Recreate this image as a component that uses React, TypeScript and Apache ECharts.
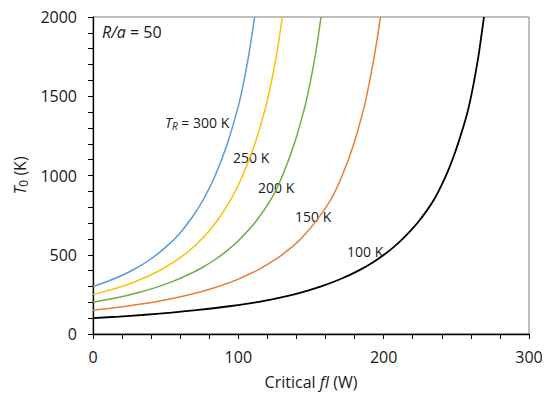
import React, { useEffect, useRef } from "react";
import * as echarts from "echarts";

// Critical fI (W) vs T0 (K) for several reservoir temperatures T_R  — [fI, T0] pairs
const xTicks = [0, 100, 200, 300];
const yTicks = [0, 500, 1000, 1500, 2000];

const tr300: number[][] = [[0, 300], [9.4, 330], [18.6, 364], [29.6, 415], [39.3, 470], [49.7, 545], [59.2, 630], [68.5, 740], [76.5, 858], [84.1, 1000], [92.4, 1200], [100, 1438], [103.5, 1580], [106.6, 1729], [108.9, 1860], [111.2, 2000]];
const tr250: number[][] = [[0, 250], [9.5, 272], [18.2, 295], [28.9, 330], [39.7, 372], [51.4, 430], [62.4, 498], [71, 565], [79, 640], [87.4, 740], [95.4, 858], [103, 1000], [111.4, 1200], [119, 1438], [122.5, 1580], [125.7, 1729], [128, 1860], [130.3, 2000]];
const tr200: number[][] = [[0, 200], [10.2, 217], [19.7, 235], [30.8, 260], [41.4, 288], [53.6, 327], [65.2, 372], [74.9, 418], [84.1, 470], [92.5, 528], [100.5, 593], [112, 710], [123, 858], [130.4, 1000], [138.5, 1200], [145.9, 1438], [149.3, 1580], [152.4, 1729], [154.7, 1860], [156.9, 2000]];
const tr150: number[][] = [[0, 150], [9.7, 160], [20.3, 172], [31.8, 187], [43.2, 204], [54.5, 224], [65.4, 246], [74.3, 267], [83, 290], [91.4, 316], [99.7, 345], [113.6, 405], [126.6, 477], [135, 535], [142.9, 600], [154.2, 720], [164.2, 858], [171.5, 1000], [179.5, 1200], [186.7, 1438], [190, 1580], [193.1, 1729], [195.5, 1860], [197.8, 2000]];
const tr100: number[][] = [[0, 100], [18, 110], [33.7, 120], [53.9, 135], [71, 150], [93.7, 175], [112, 200], [126.4, 225], [138.5, 250], [148.4, 275], [157, 300], [171.2, 350], [182.7, 400], [192.2, 450], [200.2, 500], [207.1, 550], [213.1, 600], [218.4, 650], [223.2, 700], [229.8, 780], [235.3, 858], [240.4, 950], [245.2, 1050], [249.3, 1150], [252.9, 1250], [256.2, 1350], [258.7, 1438], [261.9, 1580], [264.8, 1729], [266.9, 1860], [269, 2000]];

const seriesNames = ["300 K", "250 K", "200 K", "150 K", "100 K"];
const seriesData = [tr300, tr250, tr200, tr150, tr100];
const seriesColors = ["#5B9BD5", "#FFC000", "#70AD47", "#ED7D31", "#000000"];

const FONT = "'Open Sans', sans-serif";
const TXT = "#1a1a1a";

export default function App() {
  const ref = useRef<HTMLDivElement>(null);
  useEffect(() => {
    if (!ref.current) return;
    const chart = echarts.init(ref.current, undefined, { renderer: "svg" });
    const option: any = {
      animation: false,
      backgroundColor: "#ffffff",
      grid: {
        left: 93,
        right: 19,
        top: 17,
        bottom: 61,
        show: true,
        borderColor: "#7f7f7f",
        borderWidth: 1,
        backgroundColor: "transparent",
      },
      xAxis: {
        type: "value",
        min: xTicks[0],
        max: xTicks[xTicks.length - 1],
        interval: 100,
        name: "{n|Critical }{it|fI}{n| (W)}",
        nameLocation: "middle",
        nameGap: 40,
        nameTextStyle: {
          rich: {
            n: { fontFamily: FONT, fontSize: 16, color: TXT },
            it: { fontFamily: FONT, fontSize: 16, color: TXT, fontStyle: "italic" },
          },
        },
        axisLine: { show: true, onZero: false, lineStyle: { color: "#000", width: 1.3 } },
        axisTick: { show: true, length: 5, lineStyle: { color: "#000", width: 1 } },
        minorTick: { show: true, splitNumber: 5, length: 5, lineStyle: { color: "#000", width: 1 } },
        splitLine: { show: false },
        axisLabel: { fontFamily: FONT, fontSize: 16, color: TXT, margin: 15, formatter: (v: number) => String(v) },
      },
      yAxis: {
        type: "value",
        min: yTicks[0],
        max: yTicks[yTicks.length - 1],
        interval: 500,
        name: "{it|T}{sub|0}{n| (K)}",
        nameLocation: "middle",
        nameGap: 60,
        nameTextStyle: {
          rich: {
            n: { fontFamily: FONT, fontSize: 16, color: TXT, lineHeight: 20 },
            it: { fontFamily: FONT, fontSize: 16, color: TXT, fontStyle: "italic", lineHeight: 20 },
            sub: { fontFamily: FONT, fontSize: 12, color: TXT, lineHeight: 12, verticalAlign: "bottom" },
          },
        },
        axisLine: { show: true, onZero: false, lineStyle: { color: "#000", width: 1.3 } },
        axisTick: { show: true, length: 5, lineStyle: { color: "#000", width: 1 } },
        minorTick: { show: true, splitNumber: 5, length: 5, lineStyle: { color: "#000", width: 1 } },
        splitLine: { show: false },
        axisLabel: { fontFamily: FONT, fontSize: 16, color: TXT, margin: 16, formatter: (v: number) => String(v) },
      },
      series: seriesData.map((d, i) => ({
        name: seriesNames[i],
        type: "line",
        data: d,
        showSymbol: false,
        smooth: 0.3,
        lineStyle: { color: seriesColors[i], width: i === 4 ? 1.8 : 1.5 },
        z: 3,
      })),
      graphic: [
        {
          type: "text",
          left: 102,
          top: 24,
          style: {
            text: "{it|R/a}{n| = 50}",
            rich: {
              n: { fontFamily: FONT, fontSize: 16, fill: TXT },
              it: { fontFamily: FONT, fontSize: 16, fill: TXT, fontStyle: "italic" },
            },
          },
        },
        {
          type: "text",
          left: 165,
          top: 115,
          style: {
            text: "{it|T}{sub|R}{n| = 300 K}",
            rich: {
              n: { fontFamily: FONT, fontSize: 14, fill: TXT, lineHeight: 18 },
              it: { fontFamily: FONT, fontSize: 14, fill: TXT, fontStyle: "italic", lineHeight: 18 },
              sub: { fontFamily: FONT, fontSize: 10, fill: TXT, fontStyle: "italic", lineHeight: 10, verticalAlign: "bottom" },
            },
          },
        },
        { type: "text", left: 233, top: 150, style: { text: "250 K", fontFamily: FONT, fontSize: 14, fill: TXT } },
        { type: "text", left: 258, top: 180, style: { text: "200 K", fontFamily: FONT, fontSize: 14, fill: TXT } },
        { type: "text", left: 295, top: 209, style: { text: "150 K", fontFamily: FONT, fontSize: 14, fill: TXT } },
        { type: "text", left: 347, top: 244, style: { text: "100 K", fontFamily: FONT, fontSize: 14, fill: TXT } },
      ],
    };
    chart.setOption(option);
    return () => chart.dispose();
  }, []);
  return <div ref={ref} style={{ width: 548, height: 395, position: "absolute", left: 0, top: 0 }} />;
}
